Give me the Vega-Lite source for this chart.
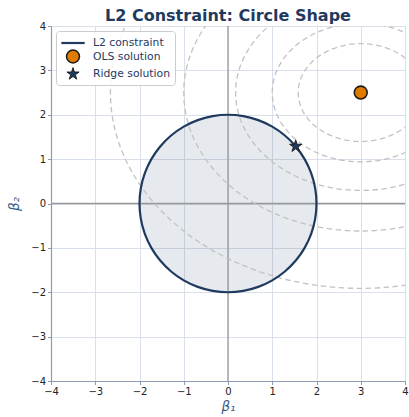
{
  "$schema": "https://vega.github.io/schema/vega-lite/v6.json",
  "width": 354,
  "height": 355,
  "autosize": {"type": "none"},
  "padding": {"left": 51, "top": 26, "right": 4, "bottom": 36},
  "background": "white",
  "title": {"text": "L2 Constraint: Circle Shape", "fontSize": 16, "fontWeight": "bold", "color": "#1f3a5f", "font": "DejaVu Sans", "anchor": "middle", "offset": -3},
  "config": {
    "view": {"stroke": null},
    "axis": {
      "grid": true, "gridColor": "#d6dce6", "gridWidth": 0.9,
      "domainColor": "#8d9bb0", "domainWidth": 1.2,
      "tickColor": "#8d9bb0", "tickSize": 3.5, "tickWidth": 1,
      "labelFont": "DejaVu Sans", "labelFontSize": 10, "labelColor": "#222222",
      "labelFlush": false, "labelOverlap": false,
      "titleFont": "DejaVu Sans", "titleFontSize": 13.5, "titleFontWeight": "normal", "titleFontStyle": "italic", "titleColor": "#3a5a85",
      "labelExpr": "replace(datum.label, '-', '\u2212')"
    }
  },
  "datasets": {
    "circlefill": [
      {"x": 2, "y": 0, "lo": 0},
      {"x": 1.9696, "y": 0.3473, "lo": -0.3473},
      {"x": 1.8794, "y": 0.684, "lo": -0.684},
      {"x": 1.7321, "y": 1.0, "lo": -1.0},
      {"x": 1.5321, "y": 1.2856, "lo": -1.2856},
      {"x": 1.2856, "y": 1.5321, "lo": -1.5321},
      {"x": 1.0, "y": 1.7321, "lo": -1.7321},
      {"x": 0.684, "y": 1.8794, "lo": -1.8794},
      {"x": 0.3473, "y": 1.9696, "lo": -1.9696},
      {"x": 0, "y": 2, "lo": -2},
      {"x": -0.3473, "y": 1.9696, "lo": -1.9696},
      {"x": -0.684, "y": 1.8794, "lo": -1.8794},
      {"x": -1.0, "y": 1.7321, "lo": -1.7321},
      {"x": -1.2856, "y": 1.5321, "lo": -1.5321},
      {"x": -1.5321, "y": 1.2856, "lo": -1.2856},
      {"x": -1.7321, "y": 1.0, "lo": -1.0},
      {"x": -1.8794, "y": 0.684, "lo": -0.684},
      {"x": -1.9696, "y": 0.3473, "lo": -0.3473},
      {"x": -2, "y": 0, "lo": 0}
    ],
    "circle": [
      {"i": 0, "x": 2, "y": 0},
      {"i": 1, "x": 1.9696, "y": 0.3473},
      {"i": 2, "x": 1.8794, "y": 0.684},
      {"i": 3, "x": 1.7321, "y": 1.0},
      {"i": 4, "x": 1.5321, "y": 1.2856},
      {"i": 5, "x": 1.2856, "y": 1.5321},
      {"i": 6, "x": 1.0, "y": 1.7321},
      {"i": 7, "x": 0.684, "y": 1.8794},
      {"i": 8, "x": 0.3473, "y": 1.9696},
      {"i": 9, "x": 0, "y": 2},
      {"i": 10, "x": -0.3473, "y": 1.9696},
      {"i": 11, "x": -0.684, "y": 1.8794},
      {"i": 12, "x": -1.0, "y": 1.7321},
      {"i": 13, "x": -1.2856, "y": 1.5321},
      {"i": 14, "x": -1.5321, "y": 1.2856},
      {"i": 15, "x": -1.7321, "y": 1.0},
      {"i": 16, "x": -1.8794, "y": 0.684},
      {"i": 17, "x": -1.9696, "y": 0.3473},
      {"i": 18, "x": -2, "y": 0},
      {"i": 19, "x": -1.9696, "y": -0.3473},
      {"i": 20, "x": -1.8794, "y": -0.684},
      {"i": 21, "x": -1.7321, "y": -1.0},
      {"i": 22, "x": -1.5321, "y": -1.2856},
      {"i": 23, "x": -1.2856, "y": -1.5321},
      {"i": 24, "x": -1.0, "y": -1.7321},
      {"i": 25, "x": -0.684, "y": -1.8794},
      {"i": 26, "x": -0.3473, "y": -1.9696},
      {"i": 27, "x": 0, "y": -2},
      {"i": 28, "x": 0.3473, "y": -1.9696},
      {"i": 29, "x": 0.684, "y": -1.8794},
      {"i": 30, "x": 1.0, "y": -1.7321},
      {"i": 31, "x": 1.2856, "y": -1.5321},
      {"i": 32, "x": 1.5321, "y": -1.2856},
      {"i": 33, "x": 1.7321, "y": -1.0},
      {"i": 34, "x": 1.8794, "y": -0.684},
      {"i": 35, "x": 1.9696, "y": -0.3473}
    ],
    "ellipses": [
      {"k":1,"i":0,"x":4.414,"y":2.5},{"k":1,"i":1,"x":4.366,"y":2.786},{"k":1,"i":2,"x":4.225,"y":3.052},{"k":1,"i":3,"x":4.0,"y":3.28},{"k":1,"i":4,"x":3.707,"y":3.455},{"k":1,"i":5,"x":3.366,"y":3.565},{"k":1,"i":6,"x":3.0,"y":3.603},{"k":1,"i":7,"x":2.634,"y":3.565},{"k":1,"i":8,"x":2.293,"y":3.455},{"k":1,"i":9,"x":2.0,"y":3.28},{"k":1,"i":10,"x":1.775,"y":3.052},{"k":1,"i":11,"x":1.634,"y":2.786},{"k":1,"i":12,"x":1.586,"y":2.5},{"k":1,"i":13,"x":1.634,"y":2.214},{"k":1,"i":14,"x":1.775,"y":1.948},{"k":1,"i":15,"x":2.0,"y":1.72},{"k":1,"i":16,"x":2.293,"y":1.545},{"k":1,"i":17,"x":2.634,"y":1.435},{"k":1,"i":18,"x":3.0,"y":1.397},{"k":1,"i":19,"x":3.366,"y":1.435},{"k":1,"i":20,"x":3.707,"y":1.545},{"k":1,"i":21,"x":4.0,"y":1.72},{"k":1,"i":22,"x":4.225,"y":1.948},{"k":1,"i":23,"x":4.366,"y":2.214},
      {"k":2,"i":0,"x":5.0,"y":2.5},{"k":2,"i":1,"x":4.932,"y":2.904},{"k":2,"i":2,"x":4.732,"y":3.28},{"k":2,"i":3,"x":4.414,"y":3.603},{"k":2,"i":4,"x":4.0,"y":3.851},{"k":2,"i":5,"x":3.518,"y":4.007},{"k":2,"i":6,"x":3.0,"y":4.06},{"k":2,"i":7,"x":2.482,"y":4.007},{"k":2,"i":8,"x":2.0,"y":3.851},{"k":2,"i":9,"x":1.586,"y":3.603},{"k":2,"i":10,"x":1.268,"y":3.28},{"k":2,"i":11,"x":1.068,"y":2.904},{"k":2,"i":12,"x":1.0,"y":2.5},{"k":2,"i":13,"x":1.068,"y":2.096},{"k":2,"i":14,"x":1.268,"y":1.72},{"k":2,"i":15,"x":1.586,"y":1.397},{"k":2,"i":16,"x":2.0,"y":1.149},{"k":2,"i":17,"x":2.482,"y":0.993},{"k":2,"i":18,"x":3.0,"y":0.94},{"k":2,"i":19,"x":3.518,"y":0.993},{"k":2,"i":20,"x":4.0,"y":1.149},{"k":2,"i":21,"x":4.414,"y":1.397},{"k":2,"i":22,"x":4.732,"y":1.72},{"k":2,"i":23,"x":4.932,"y":2.096},
      {"k":3,"i":0,"x":5.828,"y":2.5},{"k":3,"i":1,"x":5.732,"y":3.071},{"k":3,"i":2,"x":5.449,"y":3.603},{"k":3,"i":3,"x":5.0,"y":4.06},{"k":3,"i":4,"x":4.414,"y":4.41},{"k":3,"i":5,"x":3.732,"y":4.631},{"k":3,"i":6,"x":3.0,"y":4.706},{"k":3,"i":7,"x":2.268,"y":4.631},{"k":3,"i":8,"x":1.586,"y":4.41},{"k":3,"i":9,"x":1.0,"y":4.06},{"k":3,"i":10,"x":0.551,"y":3.603},{"k":3,"i":11,"x":0.268,"y":3.071},{"k":3,"i":12,"x":0.172,"y":2.5},{"k":3,"i":13,"x":0.268,"y":1.929},{"k":3,"i":14,"x":0.551,"y":1.397},{"k":3,"i":15,"x":1.0,"y":0.94},{"k":3,"i":16,"x":1.586,"y":0.59},{"k":3,"i":17,"x":2.268,"y":0.369},{"k":3,"i":18,"x":3.0,"y":0.294},{"k":3,"i":19,"x":3.732,"y":0.369},{"k":3,"i":20,"x":4.414,"y":0.59},{"k":3,"i":21,"x":5.0,"y":0.94},{"k":3,"i":22,"x":5.449,"y":1.397},{"k":3,"i":23,"x":5.732,"y":1.929},
      {"k":4,"i":0,"x":7.0,"y":2.5},{"k":4,"i":1,"x":6.864,"y":3.308},{"k":4,"i":2,"x":6.464,"y":4.06},{"k":4,"i":3,"x":5.828,"y":4.706},{"k":4,"i":4,"x":5.0,"y":5.202},{"k":4,"i":5,"x":4.035,"y":5.514},{"k":4,"i":6,"x":3.0,"y":5.62},{"k":4,"i":7,"x":1.965,"y":5.514},{"k":4,"i":8,"x":1.0,"y":5.202},{"k":4,"i":9,"x":0.172,"y":4.706},{"k":4,"i":10,"x":-0.464,"y":4.06},{"k":4,"i":11,"x":-0.864,"y":3.308},{"k":4,"i":12,"x":-1.0,"y":2.5},{"k":4,"i":13,"x":-0.864,"y":1.692},{"k":4,"i":14,"x":-0.464,"y":0.94},{"k":4,"i":15,"x":0.172,"y":0.294},{"k":4,"i":16,"x":1.0,"y":-0.202},{"k":4,"i":17,"x":1.965,"y":-0.514},{"k":4,"i":18,"x":3.0,"y":-0.62},{"k":4,"i":19,"x":4.035,"y":-0.514},{"k":4,"i":20,"x":5.0,"y":-0.202},{"k":4,"i":21,"x":5.828,"y":0.294},{"k":4,"i":22,"x":6.464,"y":0.94},{"k":4,"i":23,"x":6.864,"y":1.692},
      {"k":5,"i":0,"x":8.657,"y":2.5},{"k":5,"i":1,"x":8.464,"y":3.642},{"k":5,"i":2,"x":7.899,"y":4.706},{"k":5,"i":3,"x":7.0,"y":5.62},{"k":5,"i":4,"x":5.828,"y":6.321},{"k":5,"i":5,"x":4.464,"y":6.762},{"k":5,"i":6,"x":3.0,"y":6.912},{"k":5,"i":7,"x":1.536,"y":6.762},{"k":5,"i":8,"x":0.172,"y":6.321},{"k":5,"i":9,"x":-1.0,"y":5.62},{"k":5,"i":10,"x":-1.899,"y":4.706},{"k":5,"i":11,"x":-2.464,"y":3.642},{"k":5,"i":12,"x":-2.657,"y":2.5},{"k":5,"i":13,"x":-2.464,"y":1.358},{"k":5,"i":14,"x":-1.899,"y":0.294},{"k":5,"i":15,"x":-1.0,"y":-0.62},{"k":5,"i":16,"x":0.172,"y":-1.321},{"k":5,"i":17,"x":1.536,"y":-1.762},{"k":5,"i":18,"x":3.0,"y":-1.912},{"k":5,"i":19,"x":4.464,"y":-1.762},{"k":5,"i":20,"x":5.828,"y":-1.321},{"k":5,"i":21,"x":7.0,"y":-0.62},{"k":5,"i":22,"x":7.899,"y":0.294},{"k":5,"i":23,"x":8.464,"y":1.358}
    ],
    "zero": [{"v": 0}],
    "points": [
      {"series": "OLS solution", "x": 3, "y": 2.5},
      {"series": "Ridge solution", "x": 1.53, "y": 1.29}
    ]
  },
  "layer": [
    {
      "data": {"name": "circlefill"},
      "mark": {"type": "area", "color": "#1f3a5f", "opacity": 0.11},
      "encoding": {
        "x": {"field": "x", "type": "quantitative", "title": "β₁", "scale": {"domain": [-4, 4], "nice": false, "zero": false}, "axis": {"values": [-4,-3,-2,-1,0,1,2,3,4], "titlePadding": 3}},
        "y": {"field": "y", "type": "quantitative", "title": "β₂", "scale": {"domain": [-4, 4], "nice": false, "zero": false}, "axis": {"values": [-4,-3,-2,-1,0,1,2,3,4], "titlePadding": 9}},
        "y2": {"field": "lo"}
      }
    },
    {
      "data": {"name": "zero"},
      "mark": {"type": "rule", "color": "#999999", "strokeWidth": 1.3},
      "encoding": {"x": {"field": "v", "type": "quantitative", "title": "β₁"}}
    },
    {
      "data": {"name": "zero"},
      "mark": {"type": "rule", "color": "#999999", "strokeWidth": 1.3},
      "encoding": {"y": {"field": "v", "type": "quantitative", "title": "β₂"}}
    },
    {
      "data": {"name": "ellipses"},
      "mark": {"type": "line", "color": "#c2c2c2", "strokeWidth": 1.3, "strokeDash": [5.5, 3.5], "interpolate": "cardinal-closed", "clip": true},
      "encoding": {
        "x": {"field": "x", "type": "quantitative", "title": "β₁"},
        "y": {"field": "y", "type": "quantitative", "title": "β₂"},
        "detail": {"field": "k", "type": "nominal"},
        "order": {"field": "i", "type": "quantitative"}
      }
    },
    {
      "data": {"name": "circle"},
      "mark": {"type": "line", "color": "#1f3a5f", "strokeWidth": 2.2, "interpolate": "cardinal-closed"},
      "encoding": {
        "x": {"field": "x", "type": "quantitative", "title": "β₁"},
        "y": {"field": "y", "type": "quantitative", "title": "β₂"},
        "order": {"field": "i", "type": "quantitative"}
      }
    },
    {
      "data": {"name": "points"},
      "mark": {"type": "point", "filled": true, "opacity": 1},
      "encoding": {
        "x": {"field": "x", "type": "quantitative", "title": "β₁"},
        "y": {"field": "y", "type": "quantitative", "title": "β₂"},
        "fill": {"field": "series", "type": "nominal", "title": null, "scale": {"domain": ["L2 constraint", "OLS solution", "Ridge solution"], "range": ["#1f3a5f", "#e07b00", "#1f3a5f"]}},
        "stroke": {"field": "series", "type": "nominal", "title": null, "scale": {"domain": ["L2 constraint", "OLS solution", "Ridge solution"], "range": ["#1f3a5f", "#1a1a1a", "#1a1a1a"]}},
        "strokeWidth": {"field": "series", "type": "nominal", "title": null, "scale": {"domain": ["L2 constraint", "OLS solution", "Ridge solution"], "range": [2.2, 0.9, 0.9]}},
        "size": {"field": "series", "type": "nominal", "title": null, "scale": {"domain": ["L2 constraint", "OLS solution", "Ridge solution"], "range": [169, 165, 310]}},
        "shape": {
          "field": "series", "type": "nominal", "title": null,
          "scale": {"domain": ["L2 constraint", "OLS solution", "Ridge solution"], "range": ["M-1.8,0L1.8,0", "circle", "M0,-1L0.2245,-0.309L0.9511,-0.309L0.3633,0.118L0.5878,0.809L0,0.382L-0.5878,0.809L-0.3633,0.118L-0.9511,-0.309L-0.2245,-0.309Z"]},
          "legend": {
            "orient": "top-left", "offset": 5, "padding": 4,
            "strokeColor": "#cccccc", "fillColor": "rgba(255,255,255,0.85)", "cornerRadius": 3,
            "labelFont": "DejaVu Sans", "labelFontSize": 10.8, "labelColor": "#1f3a5f", "labelOffset": 12,
            "rowPadding": -2, "symbolOffset": 5
          }
        }
      }
    }
  ]
}
